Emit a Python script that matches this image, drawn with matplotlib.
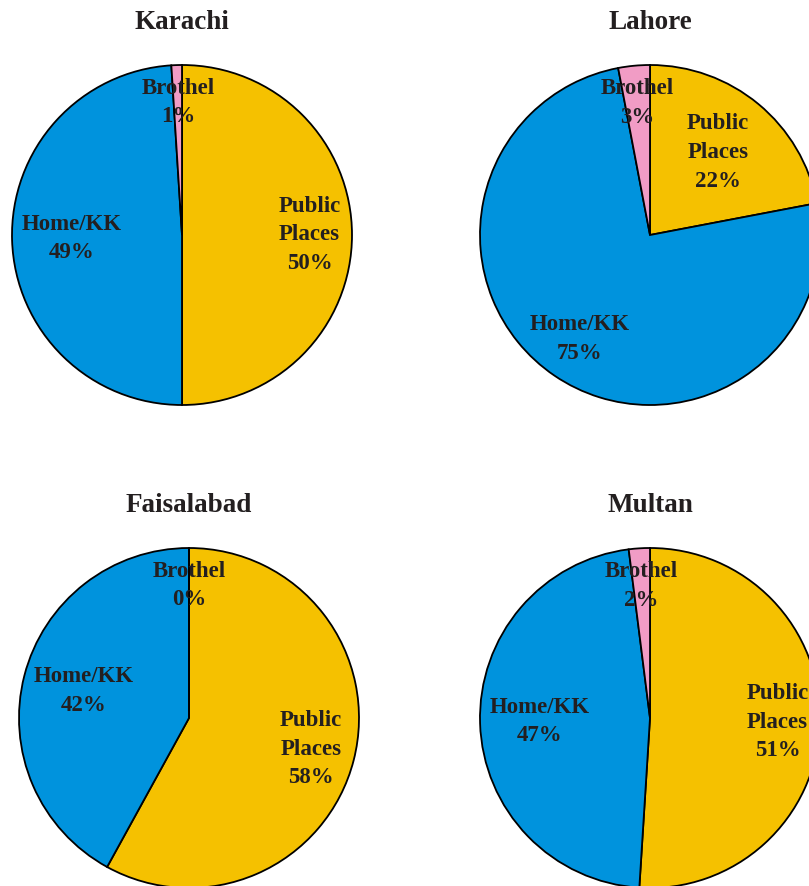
import numpy as np
import matplotlib
matplotlib.use("Agg")
import matplotlib.pyplot as plt

# data
cities = ["Karachi", "Lahore", "Faisalabad", "Multan"]
categories = ["Public\nPlaces", "Home/KK", "Brothel"]
karachi = [50, 49, 1]
lahore = [22, 75, 3]
faisalabad = [58, 42, 0]
multan = [51, 47, 2]
shares = [karachi, lahore, faisalabad, multan]

colors = ["#F5C100", "#0093DD", "#F19CC5"]
text_color = "#231F20"

# layout in pixels: pie centre and label distance (fraction of radius)
W, H = 809, 886
R = 170
centers = [(182, 235), (650, 235), (189, 718), (650, 718)]
label_dist = [
    (0.75, 0.65, 0.78),
    (0.63, 0.74, 0.78),
    (0.74, 0.64, 0.78),
    (0.75, 0.65, 0.78),
]

plt.rcParams["font.family"] = ["Liberation Serif", "DejaVu Serif"]
plt.rcParams["font.weight"] = "bold"

fig = plt.figure(figsize=(W / 100, H / 100), dpi=100)

for city, vals, (cx, cy), dists in zip(cities, shares, centers, label_dist):
    ax = fig.add_axes([(cx - R) / W, 1 - (cy + R) / H, 2 * R / W, 2 * R / H])
    wedges, _ = ax.pie(
        vals, colors=colors, startangle=90, counterclock=False,
        wedgeprops={"edgecolor": "black", "linewidth": 1.3, "clip_on": False},
    )
    ax.set_xlim(-1, 1)
    ax.set_ylim(-1, 1)
    ax.axis("off")

    # labels at each wedge's mid angle
    total = sum(vals)
    start = 90.0
    for cat, v, d in zip(categories, vals, dists):
        span = 360.0 * v / total
        mid = np.deg2rad(start - span / 2)
        start -= span
        ax.text(d * np.cos(mid), d * np.sin(mid), f"{cat}\n{v}%",
                ha="center", va="center", ma="center", fontsize=16.5,
                color=text_color, linespacing=1.48, clip_on=False)

    ax.text(0, 1.25, city, ha="center", va="center", fontsize=19.5,
            color=text_color, clip_on=False)

fig.savefig("out.png", dpi=100)
